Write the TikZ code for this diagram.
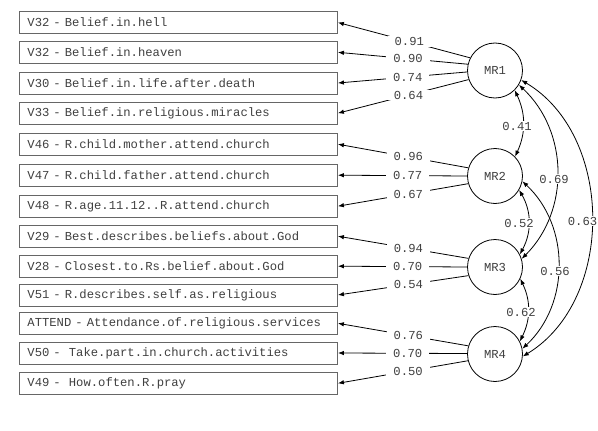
\documentclass[tikz,border=0pt]{standalone}
\usepackage{fontspec}
\setmainfont{Liberation Mono}
\usetikzlibrary{arrows.meta}
\begin{document}
\begin{tikzpicture}[x=1pt,y=-1pt,
  every node/.style={font=\fontsize{12.2}{14}\selectfont, text=black!75},
  box/.style={draw=black!60, line width=0.9pt, rectangle, anchor=west, minimum height=22pt, text width=302pt, inner xsep=8pt, inner ysep=0pt, align=left},
  factor/.style={draw=black, line width=0.8pt, circle, minimum size=55pt, inner sep=0pt},
  lbl/.style={fill=white, inner xsep=7pt, inner ysep=1pt},
  load/.style={line width=0.8pt, -{Latex[length=6pt,width=4.5pt]}},
  corr/.style={line width=0.8pt, {Latex[length=6pt,width=4.5pt]}-{Latex[length=6pt,width=4.5pt]}}
]
\useasboundingbox (0,0) rectangle (598,431);
\fill[white] (0,0) rectangle (598,431);

% observed variables
\node[box] (b1)  at (19,22.5)  {V32 - Belief.in.hell};
\node[box] (b2)  at (19,52.3)  {V32 - Belief.in.heaven};
\node[box] (b3)  at (19,83)    {V30 - Belief.in.life.after.death};
\node[box] (b4)  at (19,113.2) {V33 - Belief.in.religious.miracles};
\node[box] (b5)  at (19,144.2) {V46 - R.child.mother.attend.church};
\node[box] (b6)  at (19,175.2) {V47 - R.child.father.attend.church};
\node[box] (b7)  at (19,206.2) {V48 - R.age.11.12..R.attend.church};
\node[box] (b8)  at (19,236.2) {V29 - Best.describes.beliefs.about.God};
\node[box] (b9)  at (19,266.2) {V28 - Closest.to.Rs.belief.about.God};
\node[box] (b10) at (19,295)   {V51 - R.describes.self.as.religious};
\node[box] (b11) at (19,323.3) {ATTEND - Attendance.of.religious.services};
\node[box] (b12) at (19,353)   {V50 -~~Take.part.in.church.activities};
\node[box] (b13) at (19,383.3) {V49 -~~How.often.R.pray};

% factors
\node[factor] (MR1) at (495,70.5) {MR1};
\node[factor] (MR2) at (495,176)  {MR2};
\node[factor] (MR3) at (495,267)  {MR3};
\node[factor] (MR4) at (495,354)  {MR4};

% loadings
\draw[load] (MR1.153) -- node[lbl,pos=0.46] (l1) {0.91} (b1.east);
\draw[load] (MR1.167) -- node[lbl,pos=0.46] (l2) {0.90} (b2.east);
\draw[load] (MR1.183) -- node[lbl,pos=0.46] (l3) {0.74} (b3.east);
\draw[load] (MR1.199) -- node[lbl,pos=0.46] (l4) {0.64} (b4.east);
\draw[load] (MR2.163) -- node[lbl,pos=0.46] (l5) {0.96} (b5.east);
\draw[load] (MR2.180) -- node[lbl,pos=0.46] (l6) {0.77} (b6.east);
\draw[load] (MR2.196) -- node[lbl,pos=0.46] (l7) {0.67} (b7.east);
\draw[load] (MR3.162) -- node[lbl,pos=0.46] (l8) {0.94} (b8.east);
\draw[load] (MR3.180) -- node[lbl,pos=0.46] (l9) {0.70} (b9.east);
\draw[load] (MR3.198) -- node[lbl,pos=0.46] (l10) {0.54} (b10.east);
\draw[load] (MR4.163) -- node[lbl,pos=0.46] (l11) {0.76} (b11.east);
\draw[load] (MR4.179) -- node[lbl,pos=0.46] (l12) {0.70} (b12.east);
\draw[load] (MR4.194) -- node[lbl,pos=0.46] (l13) {0.50} (b13.east);

% correlations
\draw[corr] (MR1.-45) to[bend left=25] (MR2.44);
\draw[corr] (MR1.-31) to[bend left=46] (MR3.17);
\draw[corr] (MR1.-20) to[bend left=59] (MR4.-5);
\draw[corr] (MR2.-30) to[bend left=29] (MR3.27);
\draw[corr] (MR2.-11) to[bend left=47] (MR4.11);
\draw[corr] (MR3.-25) to[bend left=26] (MR4.27);

\node[lbl] (c12) at (517,126) {0.41};
\node[lbl] (c13) at (554,179) {0.69};
\node[lbl] (c14) at (582.5,221) {0.63};
\node[lbl] (c23) at (519,223) {0.52};
\node[lbl] (c24) at (555,271) {0.56};
\node[lbl] (c34) at (521,312) {0.62};
\end{tikzpicture}
\end{document}
